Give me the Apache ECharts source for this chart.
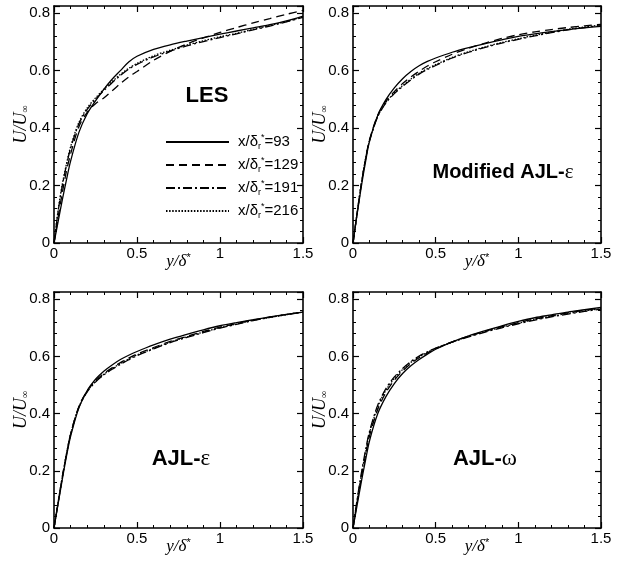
<!DOCTYPE html>
<html><head><meta charset="utf-8">
<script src="https://cdn.jsdelivr.net/npm/echarts@6/dist/echarts.min.js"></script>
<style>html,body{margin:0;padding:0;background:#fff}#c{width:618px;height:564px}</style>
</head><body><div id="c"></div>
<script>
// wall-normal positions y/delta*
const yPos = [0,0.025,0.05,0.075,0.1,0.15,0.2,0.25,0.3,0.35,0.4,0.45,0.5,0.6,0.7,0.8,0.9,1.0,1.1,1.2,1.3,1.4,1.5];
const stations = ['93','129','191','216'];
const panelNames = ['LES','Modified AJL-','AJL-','AJL-'];
const panelGreek = ['','ε','ε','ω'];

// LES
const les93  = [0,0.075,0.15,0.22,0.285,0.385,0.45,0.495,0.535,0.57,0.60,0.63,0.65,0.674,0.69,0.703,0.715,0.727,0.738,0.749,0.76,0.773,0.79];
const les129 = [0,0.09,0.175,0.25,0.31,0.405,0.455,0.485,0.505,0.53,0.555,0.578,0.597,0.636,0.667,0.693,0.714,0.733,0.75,0.766,0.781,0.796,0.81];
const les191 = [0,0.11,0.20,0.27,0.33,0.415,0.465,0.50,0.53,0.558,0.583,0.605,0.622,0.648,0.668,0.686,0.701,0.715,0.728,0.742,0.755,0.77,0.785];
const les216 = [0,0.115,0.205,0.275,0.335,0.42,0.47,0.505,0.535,0.562,0.587,0.608,0.625,0.652,0.671,0.689,0.704,0.718,0.73,0.744,0.757,0.771,0.787];
// Modified AJL-eps
const mod93  = [0,0.10,0.195,0.28,0.355,0.445,0.50,0.54,0.572,0.597,0.617,0.632,0.644,0.664,0.68,0.694,0.707,0.719,0.728,0.736,0.743,0.749,0.754];
const mod129 = [0,0.105,0.205,0.29,0.36,0.445,0.495,0.527,0.555,0.578,0.598,0.616,0.631,0.657,0.678,0.696,0.712,0.725,0.735,0.743,0.75,0.756,0.761];
const mod191 = [0,0.105,0.205,0.29,0.355,0.44,0.488,0.52,0.545,0.568,0.588,0.604,0.618,0.644,0.664,0.681,0.696,0.709,0.721,0.732,0.742,0.75,0.757];
const mod216 = [0,0.105,0.205,0.29,0.357,0.442,0.49,0.522,0.548,0.571,0.591,0.607,0.621,0.646,0.666,0.683,0.698,0.711,0.723,0.734,0.744,0.752,0.759];
// AJL-eps
const ajle93  = [0,0.085,0.17,0.25,0.32,0.42,0.48,0.52,0.548,0.57,0.589,0.604,0.617,0.64,0.66,0.677,0.693,0.707,0.718,0.728,0.738,0.747,0.755];
const ajle129 = [0,0.09,0.178,0.258,0.328,0.425,0.48,0.515,0.54,0.56,0.578,0.594,0.608,0.631,0.652,0.67,0.687,0.702,0.715,0.727,0.737,0.746,0.755];
const ajle191 = [0,0.09,0.178,0.258,0.328,0.422,0.476,0.51,0.535,0.555,0.572,0.588,0.602,0.626,0.648,0.666,0.683,0.699,0.712,0.725,0.736,0.746,0.755];
const ajle216 = [0,0.09,0.178,0.258,0.328,0.423,0.478,0.512,0.537,0.557,0.575,0.591,0.605,0.628,0.65,0.668,0.685,0.7,0.713,0.726,0.736,0.746,0.755];
// AJL-omega
const ajlw93  = [0,0.08,0.16,0.235,0.305,0.40,0.46,0.505,0.54,0.567,0.589,0.608,0.625,0.651,0.672,0.69,0.707,0.722,0.735,0.745,0.755,0.763,0.771];
const ajlw129 = [0,0.09,0.175,0.252,0.322,0.415,0.475,0.517,0.549,0.575,0.595,0.612,0.627,0.651,0.671,0.688,0.704,0.718,0.731,0.742,0.752,0.761,0.769];
const ajlw191 = [0,0.10,0.19,0.27,0.338,0.43,0.488,0.528,0.558,0.582,0.601,0.616,0.629,0.65,0.668,0.685,0.70,0.714,0.727,0.738,0.748,0.757,0.765];
const ajlw216 = [0,0.095,0.183,0.262,0.332,0.424,0.483,0.523,0.554,0.579,0.598,0.614,0.628,0.65,0.67,0.687,0.702,0.716,0.729,0.74,0.75,0.759,0.767];

const xTicks = {min:0, max:1.5, interval:0.5};
const yTicks = {min:0, max:0.825, interval:0.2};

const panels = [
  [les93, les129, les191, les216],
  [mod93, mod129, mod191, mod216],
  [ajle93, ajle129, ajle191, ajle216],
  [ajlw93, ajlw129, ajlw191, ajlw216]
];
const dashes = ['solid',[8,5],[9,3,2,3],[1.5,1.6]];
const seriesNames = stations.map(s => 'x/δr*=' + s);

const grids = [
  {left:54, right:315, top:6, bottom:321},
  {left:353, right:17, top:6, bottom:321},
  {left:54, right:315, top:292, bottom:36},
  {left:353, right:17, top:292, bottom:36}
];
const labelPos = [[207,96],[503,172],[181,459],[485,459]];

const font = 'Liberation Sans, Arial, Helvetica, sans-serif';
const serif = 'Liberation Serif, Times New Roman, serif';

const xAxes = [], yAxes = [], series = [];
grids.forEach((g, i) => {
  const common = {
    gridIndex: i, type: 'value', splitLine: {show:false},
    axisLine: {show:true, onZero:false, lineStyle:{color:'#000', width:1.6}},
    axisTick: {show:true, inside:true, length:6, lineStyle:{color:'#000', width:1.2}},
    minorTick: {show:true, length:3, lineStyle:{color:'#000', width:1}},
    minorSplitLine: {show:false}
  };
  xAxes.push(Object.assign({}, common, xTicks, {
    position:'bottom', minorTick:Object.assign({splitNumber:5}, common.minorTick),
    axisLabel:{color:'#000', fontSize:15, fontFamily:font, margin:3},
    name:'{i|y}{i|/}{g|δ}{s|*}', nameLocation:'middle', nameGap:9, nameMoveOverlap:false,
    nameTextStyle:{verticalAlign:'top', rich:{
      i:{fontFamily:serif, fontStyle:'italic', fontSize:17, color:'#000', lineHeight:18, verticalAlign:'bottom'},
      g:{fontFamily:serif, fontStyle:'italic', fontSize:17, color:'#000', lineHeight:18, verticalAlign:'bottom'},
      s:{fontFamily:font, fontSize:11, color:'#000', verticalAlign:'top', lineHeight:18}
    }}
  }));
  xAxes.push(Object.assign({}, common, xTicks, {
    position:'top', minorTick:Object.assign({splitNumber:5}, common.minorTick), axisLabel:{show:false}
  }));
  yAxes.push(Object.assign({}, common, yTicks, {
    position:'left', minorTick:Object.assign({splitNumber:5}, common.minorTick),
    axisLabel:{color:'#000', fontSize:15, fontFamily:font, margin:4, showMaxLabel:false},
    name:'{i|U}{i|/}{i|U}{s|∞}', nameLocation:'middle', nameGap:24, nameRotate:90, nameMoveOverlap:false,
    nameTextStyle:{rich:{
      i:{fontFamily:serif, fontStyle:'italic', fontSize:18, color:'#000', lineHeight:18},
      s:{fontFamily:serif, fontSize:10, color:'#000', verticalAlign:'bottom', lineHeight:18}
    }}
  }));
  yAxes.push(Object.assign({}, common, yTicks, {
    position:'right', minorTick:Object.assign({splitNumber:5}, common.minorTick), axisLabel:{show:false}
  }));
  panels[i].forEach((arr, k) => {
    series.push({
      type:'line', name: seriesNames[k], xAxisIndex: i*2, yAxisIndex: i*2,
      data: yPos.map((y, j) => [y, arr[j]]),
      showSymbol:false, symbol:'none', smooth:0.3,
      itemStyle:{color:'#000'},
      lineStyle:{color:'#000', width:1.3, type: dashes[k]}, z: 2
    });
  });
});

const graphics = labelPos.map((p, i) => ({
  type:'text', x:p[0], y:p[1],
  style:{
    text: panelGreek[i] ? '{b|' + panelNames[i] + '}{g|' + panelGreek[i] + '}' : '{b|' + panelNames[i] + '}',
    align:'center', verticalAlign:'middle',
    rich:{
      b:{fontFamily:font, fontWeight:'bold', fontSize:i===1?20:22, fill:'#000'},
      g:{fontFamily:serif, fontSize:i===1?21:23, fill:'#000'}
    }
  }
}));

const chart = echarts.init(document.getElementById('c'), null, {renderer:'canvas'});
chart.setOption({
  animation:false,
  backgroundColor:'#fff',
  grid: grids,
  xAxis: xAxes,
  yAxis: yAxes,
  series: series,
  legend: {
    data: seriesNames, orient:'vertical', left:160, top:128,
    itemWidth:63, itemHeight:14, itemGap:5,
    itemStyle:{color:'rgba(0,0,0,0)', borderColor:'rgba(0,0,0,0)', borderWidth:0},
    textStyle:{color:'#000', fontFamily:font, fontSize:15, lineHeight:18, padding:[0,0,0,4],
      rich:{
        t:{fontFamily:font, fontSize:15, color:'#000', lineHeight:18},
        sub:{fontFamily:font, fontSize:9, color:'#000', verticalAlign:'bottom', lineHeight:18},
        sup:{fontFamily:font, fontSize:9, color:'#000', verticalAlign:'top', lineHeight:18}
      }},
    formatter: n => '{t|x/δ}{sub|r}{sup|*}{t|=' + n.split('=')[1] + '}'
  },
  graphic: graphics
});
</script></body></html>
